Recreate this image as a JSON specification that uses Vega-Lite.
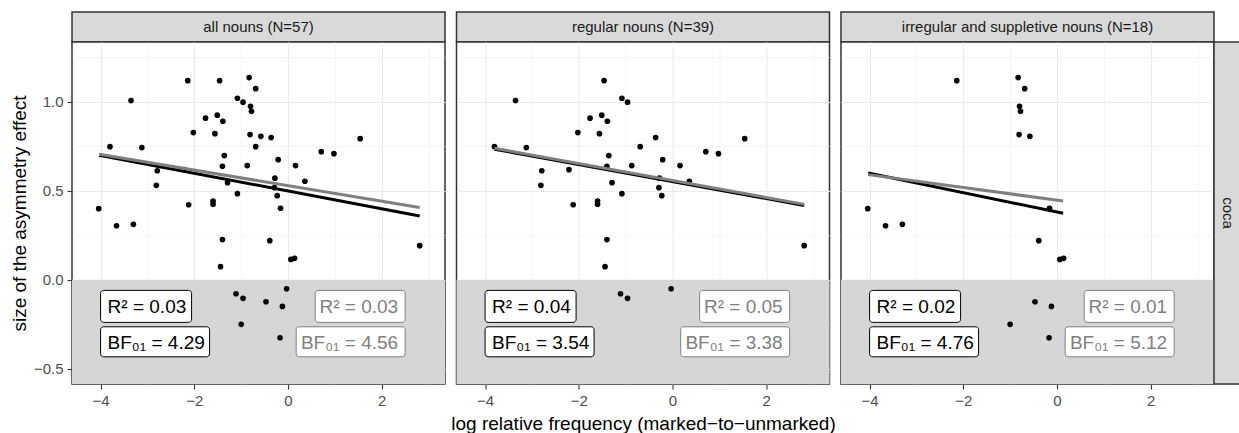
{
  "$schema": "https://vega.github.io/schema/vega-lite/v6.json",
  "padding": {"left": 9, "top": 11, "right": 0, "bottom": 0},
  "datasets": {
    "nouns": [
      {"x": -2.14, "y": 1.118, "type": "irregular"},
      {"x": -0.83, "y": 1.135, "type": "irregular"},
      {"x": -0.69, "y": 1.073, "type": "irregular"},
      {"x": -0.80, "y": 0.974, "type": "irregular"},
      {"x": -0.78, "y": 0.946, "type": "irregular"},
      {"x": -0.81, "y": 0.815, "type": "irregular"},
      {"x": -0.58, "y": 0.805, "type": "irregular"},
      {"x": -4.04, "y": 0.399, "type": "irregular"},
      {"x": -3.66, "y": 0.303, "type": "irregular"},
      {"x": -3.30, "y": 0.311, "type": "irregular"},
      {"x": -0.16, "y": 0.401, "type": "irregular"},
      {"x": -0.39, "y": 0.219, "type": "irregular"},
      {"x": 0.06, "y": 0.114, "type": "irregular"},
      {"x": 0.14, "y": 0.120, "type": "irregular"},
      {"x": -0.47, "y": -0.124, "type": "irregular"},
      {"x": -0.12, "y": -0.150, "type": "irregular"},
      {"x": -1.00, "y": -0.251, "type": "irregular"},
      {"x": -0.17, "y": -0.326, "type": "irregular"},
      {"x": -1.46, "y": 1.118, "type": "regular"},
      {"x": -3.35, "y": 1.006, "type": "regular"},
      {"x": -1.08, "y": 1.019, "type": "regular"},
      {"x": -0.96, "y": 0.997, "type": "regular"},
      {"x": -1.76, "y": 0.907, "type": "regular"},
      {"x": -1.51, "y": 0.924, "type": "regular"},
      {"x": -1.39, "y": 0.890, "type": "regular"},
      {"x": -2.02, "y": 0.826, "type": "regular"},
      {"x": -1.56, "y": 0.820, "type": "regular"},
      {"x": -0.36, "y": 0.798, "type": "regular"},
      {"x": 1.54, "y": 0.792, "type": "regular"},
      {"x": -3.80, "y": 0.747, "type": "regular"},
      {"x": -3.12, "y": 0.742, "type": "regular"},
      {"x": -0.69, "y": 0.747, "type": "regular"},
      {"x": 0.71, "y": 0.719, "type": "regular"},
      {"x": 0.98, "y": 0.708, "type": "regular"},
      {"x": -1.36, "y": 0.697, "type": "regular"},
      {"x": -0.21, "y": 0.674, "type": "regular"},
      {"x": -1.40, "y": 0.637, "type": "regular"},
      {"x": -0.87, "y": 0.641, "type": "regular"},
      {"x": 0.16, "y": 0.641, "type": "regular"},
      {"x": -2.79, "y": 0.612, "type": "regular"},
      {"x": -2.21, "y": 0.618, "type": "regular"},
      {"x": -0.28, "y": 0.570, "type": "regular"},
      {"x": 0.36, "y": 0.553, "type": "regular"},
      {"x": -1.29, "y": 0.545, "type": "regular"},
      {"x": -2.81, "y": 0.530, "type": "regular"},
      {"x": -0.29, "y": 0.517, "type": "regular"},
      {"x": -1.08, "y": 0.483, "type": "regular"},
      {"x": -0.23, "y": 0.472, "type": "regular"},
      {"x": -1.60, "y": 0.442, "type": "regular"},
      {"x": -1.60, "y": 0.424, "type": "regular"},
      {"x": -2.12, "y": 0.421, "type": "regular"},
      {"x": -1.40, "y": 0.225, "type": "regular"},
      {"x": 2.81, "y": 0.191, "type": "regular"},
      {"x": -1.44, "y": 0.073, "type": "regular"},
      {"x": -0.03, "y": -0.051, "type": "regular"},
      {"x": -1.11, "y": -0.079, "type": "regular"},
      {"x": -0.96, "y": -0.105, "type": "regular"}
    ],
    "fits": [
      {"panel": "all", "fit": "black", "x": -4.03, "y": 0.699},
      {"panel": "all", "fit": "black", "x": 2.81, "y": 0.358},
      {"panel": "all", "fit": "gray", "x": -4.03, "y": 0.704},
      {"panel": "all", "fit": "gray", "x": 2.81, "y": 0.405},
      {"panel": "regular", "fit": "black", "x": -3.80, "y": 0.733},
      {"panel": "regular", "fit": "black", "x": 2.81, "y": 0.417},
      {"panel": "regular", "fit": "gray", "x": -3.80, "y": 0.738},
      {"panel": "regular", "fit": "gray", "x": 2.81, "y": 0.423},
      {"panel": "irregular", "fit": "black", "x": -4.03, "y": 0.599},
      {"panel": "irregular", "fit": "black", "x": 0.13, "y": 0.373},
      {"panel": "irregular", "fit": "gray", "x": -4.03, "y": 0.590},
      {"panel": "irregular", "fit": "gray", "x": 0.13, "y": 0.442}
    ],
    "labels": [
      {"panel": "all", "r2b": "R² = 0.03", "bfb": "BF₀₁ = 4.29", "r2g": "R² = 0.03", "bfg": "BF₀₁ = 4.56"},
      {"panel": "regular", "r2b": "R² = 0.04", "bfb": "BF₀₁ = 3.54", "r2g": "R² = 0.05", "bfg": "BF₀₁ = 3.38"},
      {"panel": "irregular", "r2b": "R² = 0.02", "bfb": "BF₀₁ = 4.76", "r2g": "R² = 0.01", "bfg": "BF₀₁ = 5.12"}
    ]
  },
  "hconcat": [
    {
      "vconcat": [
        {
          "width": 373, "height": 30,
          "view": {"fill": "#d9d9d9", "stroke": "#333333", "strokeWidth": 1.5},
          "data": {"values": [{"label": "all nouns (N=57)"}]},
          "mark": {"type": "text", "fontSize": 15, "color": "#1a1a1a", "baseline": "middle"},
          "encoding": {"text": {"field": "label"}}
        },
        {
          "width": 373, "height": 342,
          "view": {"fill": "white", "stroke": "#333333", "strokeWidth": 1.5},
          "layer": [
            {"data": {"values": [{}]}, "mark": {"type": "rect", "color": "#d6d6d6"},
             "encoding": {"y": {"datum": 0, "type": "quantitative"}, "y2": {"datum": -0.586}, "x": {"datum": -4.61, "type": "quantitative"}, "x2": {"datum": 3.35}}},
            {"data": {"name": "nouns"}, "mark": {"type": "circle", "size": 32, "color": "black", "opacity": 1},
             "encoding": {
               "x": {"field": "x", "type": "quantitative", "scale": {"domain": [-4.61, 3.35], "nice": false, "zero": false},
                 "axis": {"values": [-4, -3, -2, -1, 0, 1, 2, 3], "format": "d", "labelExpr": "datum.value % 2 === 0 ? datum.label : ''", "title": null, "domain": false, "grid": true, "gridColor": "#ebebeb", "gridWidth": {"condition": {"test": "datum.value % 2 === 0", "value": 1.1}, "value": 0.55}, "tickColor": "#333333", "tickWidth": 1.1, "tickSize": 5, "tickOpacity": {"condition": {"test": "datum.value % 2 === 0", "value": 1}, "value": 0}, "labelFontSize": 15, "labelColor": "#4d4d4d", "labelPadding": 4, "labelFlush": false, "labelOverlap": false}},
               "y": {"field": "y", "type": "quantitative", "scale": {"domain": [-0.586, 1.335], "nice": false, "zero": false},
                 "axis": {"values": [-0.5, -0.25, 0, 0.25, 0.5, 0.75, 1, 1.25], "format": ".1f", "labelExpr": "abs(datum.value*4) % 2 < 0.01 ? datum.label : ''", "title": "size of the asymmetry effect", "titleFontSize": 19, "titleFontWeight": "normal", "titleColor": "black", "titlePadding": 4, "domain": false, "grid": true, "gridColor": "#ebebeb", "gridWidth": {"condition": {"test": "abs(datum.value*4) % 2 < 0.01", "value": 1.1}, "value": 0.55}, "tickColor": "#333333", "tickWidth": 1.1, "tickSize": 5, "tickOpacity": {"condition": {"test": "abs(datum.value*4) % 2 < 0.01", "value": 1}, "value": 0}, "labelFontSize": 15, "labelColor": "#4d4d4d", "labelPadding": 4, "labelFlush": false, "labelOverlap": false}}
             }},
            {"data": {"name": "fits"}, "transform": [{"filter": "datum.panel === 'all' && datum.fit === 'black'"}], "mark": {"type": "line", "color": "black", "strokeWidth": 3},
             "encoding": {"x": {"field": "x", "type": "quantitative"}, "y": {"field": "y", "type": "quantitative"}}},
            {"data": {"name": "fits"}, "transform": [{"filter": "datum.panel === 'all' && datum.fit === 'gray'"}], "mark": {"type": "line", "color": "#7f7f7f", "strokeWidth": 3},
             "encoding": {"x": {"field": "x", "type": "quantitative"}, "y": {"field": "y", "type": "quantitative"}}},
            {"data": {"name": "labels"}, "transform": [{"filter": "datum.panel === 'all'"}], "mark": {"type": "rect", "fill": "white", "stroke": "black", "strokeWidth": 1, "cornerRadius": 3, "x2Offset": 91, "yOffset": -16, "y2Offset": 16},
             "encoding": {"x": {"datum": -4}, "x2": {"datum": -4}, "y": {"datum": -0.15}, "y2": {"datum": -0.15}}},
            {"data": {"name": "labels"}, "transform": [{"filter": "datum.panel === 'all'"}], "mark": {"type": "rect", "fill": "white", "stroke": "black", "strokeWidth": 1, "cornerRadius": 3, "x2Offset": 109, "yOffset": -15, "y2Offset": 15},
             "encoding": {"x": {"datum": -4}, "x2": {"datum": -4}, "y": {"datum": -0.349}, "y2": {"datum": -0.349}}},
            {"data": {"name": "labels"}, "transform": [{"filter": "datum.panel === 'all'"}], "mark": {"type": "rect", "fill": "white", "stroke": "#7f7f7f", "strokeWidth": 1, "cornerRadius": 3, "xOffset": -90, "yOffset": -16, "y2Offset": 16},
             "encoding": {"x": {"datum": 2.5}, "x2": {"datum": 2.5}, "y": {"datum": -0.15}, "y2": {"datum": -0.15}}},
            {"data": {"name": "labels"}, "transform": [{"filter": "datum.panel === 'all'"}], "mark": {"type": "rect", "fill": "white", "stroke": "#7f7f7f", "strokeWidth": 1, "cornerRadius": 3, "xOffset": -109, "yOffset": -15, "y2Offset": 15},
             "encoding": {"x": {"datum": 2.5}, "x2": {"datum": 2.5}, "y": {"datum": -0.349}, "y2": {"datum": -0.349}}},
            {"data": {"name": "labels"}, "transform": [{"filter": "datum.panel === 'all'"}], "mark": {"type": "text", "align": "left", "baseline": "middle", "dx": 7, "dy": 1, "fontSize": 19, "color": "black"},
             "encoding": {"x": {"datum": -4}, "y": {"datum": -0.15}, "text": {"field": "r2b"}}},
            {"data": {"name": "labels"}, "transform": [{"filter": "datum.panel === 'all'"}], "mark": {"type": "text", "align": "left", "baseline": "middle", "dx": 7, "dy": 1, "fontSize": 19, "color": "black"},
             "encoding": {"x": {"datum": -4}, "y": {"datum": -0.349}, "text": {"field": "bfb"}}},
            {"data": {"name": "labels"}, "transform": [{"filter": "datum.panel === 'all'"}], "mark": {"type": "text", "align": "right", "baseline": "middle", "dx": -7, "dy": 1, "fontSize": 19, "color": "#7f7f7f"},
             "encoding": {"x": {"datum": 2.5}, "y": {"datum": -0.15}, "text": {"field": "r2g"}}},
            {"data": {"name": "labels"}, "transform": [{"filter": "datum.panel === 'all'"}], "mark": {"type": "text", "align": "right", "baseline": "middle", "dx": -7, "dy": 1, "fontSize": 19, "color": "#7f7f7f"},
             "encoding": {"x": {"datum": 2.5}, "y": {"datum": -0.349}, "text": {"field": "bfg"}}}
          ]
        }
      ],
      "spacing": 0, "bounds": "flush"
    },
    {
      "vconcat": [
        {
          "width": 373, "height": 30,
          "view": {"fill": "#d9d9d9", "stroke": "#333333", "strokeWidth": 1.5},
          "data": {"values": [{"label": "regular nouns (N=39)"}]},
          "mark": {"type": "text", "fontSize": 15, "color": "#1a1a1a", "baseline": "middle"},
          "encoding": {"text": {"field": "label"}}
        },
        {
          "width": 373, "height": 342,
          "view": {"fill": "white", "stroke": "#333333", "strokeWidth": 1.5},
          "layer": [
            {"data": {"values": [{}]}, "mark": {"type": "rect", "color": "#d6d6d6"},
             "encoding": {"y": {"datum": 0, "type": "quantitative"}, "y2": {"datum": -0.586}, "x": {"datum": -4.61, "type": "quantitative"}, "x2": {"datum": 3.35}}},
            {"data": {"name": "nouns"}, "transform": [{"filter": "datum.type === 'regular'"}], "mark": {"type": "circle", "size": 32, "color": "black", "opacity": 1},
             "encoding": {
               "x": {"field": "x", "type": "quantitative", "scale": {"domain": [-4.61, 3.35], "nice": false, "zero": false},
                 "axis": {"values": [-4, -3, -2, -1, 0, 1, 2, 3], "format": "d", "labelExpr": "datum.value % 2 === 0 ? datum.label : ''", "title": "log relative frequency (marked−to−unmarked)", "titleFontSize": 19, "titleFontWeight": "normal", "titleColor": "black", "titlePadding": 6, "domain": false, "grid": true, "gridColor": "#ebebeb", "gridWidth": {"condition": {"test": "datum.value % 2 === 0", "value": 1.1}, "value": 0.55}, "tickColor": "#333333", "tickWidth": 1.1, "tickSize": 5, "tickOpacity": {"condition": {"test": "datum.value % 2 === 0", "value": 1}, "value": 0}, "labelFontSize": 15, "labelColor": "#4d4d4d", "labelPadding": 4, "labelFlush": false, "labelOverlap": false}},
               "y": {"field": "y", "type": "quantitative", "scale": {"domain": [-0.586, 1.335], "nice": false, "zero": false},
                 "axis": {"values": [-0.5, -0.25, 0, 0.25, 0.5, 0.75, 1, 1.25], "title": null, "labels": false, "ticks": false, "domain": false, "grid": true, "gridColor": "#ebebeb", "gridWidth": {"condition": {"test": "abs(datum.value*4) % 2 < 0.01", "value": 1.1}, "value": 0.55}}}
             }},
            {"data": {"name": "fits"}, "transform": [{"filter": "datum.panel === 'regular' && datum.fit === 'black'"}], "mark": {"type": "line", "color": "black", "strokeWidth": 3},
             "encoding": {"x": {"field": "x", "type": "quantitative"}, "y": {"field": "y", "type": "quantitative"}}},
            {"data": {"name": "fits"}, "transform": [{"filter": "datum.panel === 'regular' && datum.fit === 'gray'"}], "mark": {"type": "line", "color": "#7f7f7f", "strokeWidth": 3},
             "encoding": {"x": {"field": "x", "type": "quantitative"}, "y": {"field": "y", "type": "quantitative"}}},
            {"data": {"name": "labels"}, "transform": [{"filter": "datum.panel === 'regular'"}], "mark": {"type": "rect", "fill": "white", "stroke": "black", "strokeWidth": 1, "cornerRadius": 3, "x2Offset": 91, "yOffset": -16, "y2Offset": 16},
             "encoding": {"x": {"datum": -4}, "x2": {"datum": -4}, "y": {"datum": -0.15}, "y2": {"datum": -0.15}}},
            {"data": {"name": "labels"}, "transform": [{"filter": "datum.panel === 'regular'"}], "mark": {"type": "rect", "fill": "white", "stroke": "black", "strokeWidth": 1, "cornerRadius": 3, "x2Offset": 109, "yOffset": -15, "y2Offset": 15},
             "encoding": {"x": {"datum": -4}, "x2": {"datum": -4}, "y": {"datum": -0.349}, "y2": {"datum": -0.349}}},
            {"data": {"name": "labels"}, "transform": [{"filter": "datum.panel === 'regular'"}], "mark": {"type": "rect", "fill": "white", "stroke": "#7f7f7f", "strokeWidth": 1, "cornerRadius": 3, "xOffset": -90, "yOffset": -16, "y2Offset": 16},
             "encoding": {"x": {"datum": 2.5}, "x2": {"datum": 2.5}, "y": {"datum": -0.15}, "y2": {"datum": -0.15}}},
            {"data": {"name": "labels"}, "transform": [{"filter": "datum.panel === 'regular'"}], "mark": {"type": "rect", "fill": "white", "stroke": "#7f7f7f", "strokeWidth": 1, "cornerRadius": 3, "xOffset": -109, "yOffset": -15, "y2Offset": 15},
             "encoding": {"x": {"datum": 2.5}, "x2": {"datum": 2.5}, "y": {"datum": -0.349}, "y2": {"datum": -0.349}}},
            {"data": {"name": "labels"}, "transform": [{"filter": "datum.panel === 'regular'"}], "mark": {"type": "text", "align": "left", "baseline": "middle", "dx": 7, "dy": 1, "fontSize": 19, "color": "black"},
             "encoding": {"x": {"datum": -4}, "y": {"datum": -0.15}, "text": {"field": "r2b"}}},
            {"data": {"name": "labels"}, "transform": [{"filter": "datum.panel === 'regular'"}], "mark": {"type": "text", "align": "left", "baseline": "middle", "dx": 7, "dy": 1, "fontSize": 19, "color": "black"},
             "encoding": {"x": {"datum": -4}, "y": {"datum": -0.349}, "text": {"field": "bfb"}}},
            {"data": {"name": "labels"}, "transform": [{"filter": "datum.panel === 'regular'"}], "mark": {"type": "text", "align": "right", "baseline": "middle", "dx": -7, "dy": 1, "fontSize": 19, "color": "#7f7f7f"},
             "encoding": {"x": {"datum": 2.5}, "y": {"datum": -0.15}, "text": {"field": "r2g"}}},
            {"data": {"name": "labels"}, "transform": [{"filter": "datum.panel === 'regular'"}], "mark": {"type": "text", "align": "right", "baseline": "middle", "dx": -7, "dy": 1, "fontSize": 19, "color": "#7f7f7f"},
             "encoding": {"x": {"datum": 2.5}, "y": {"datum": -0.349}, "text": {"field": "bfg"}}}
          ]
        }
      ],
      "spacing": 0, "bounds": "flush"
    },
    {
      "vconcat": [
        {
          "width": 373, "height": 30,
          "view": {"fill": "#d9d9d9", "stroke": "#333333", "strokeWidth": 1.5},
          "data": {"values": [{"label": "irregular and suppletive nouns (N=18)"}]},
          "mark": {"type": "text", "fontSize": 15, "color": "#1a1a1a", "baseline": "middle"},
          "encoding": {"text": {"field": "label"}}
        },
        {
          "hconcat": [
            {
              "width": 373, "height": 342,
              "view": {"fill": "white", "stroke": "#333333", "strokeWidth": 1.5},
              "layer": [
                {"data": {"values": [{}]}, "mark": {"type": "rect", "color": "#d6d6d6"},
                 "encoding": {"y": {"datum": 0, "type": "quantitative"}, "y2": {"datum": -0.586}, "x": {"datum": -4.61, "type": "quantitative"}, "x2": {"datum": 3.35}}},
                {"data": {"name": "nouns"}, "transform": [{"filter": "datum.type === 'irregular'"}], "mark": {"type": "circle", "size": 32, "color": "black", "opacity": 1},
                 "encoding": {
                   "x": {"field": "x", "type": "quantitative", "scale": {"domain": [-4.61, 3.35], "nice": false, "zero": false},
                     "axis": {"values": [-4, -3, -2, -1, 0, 1, 2, 3], "format": "d", "labelExpr": "datum.value % 2 === 0 ? datum.label : ''", "title": null, "domain": false, "grid": true, "gridColor": "#ebebeb", "gridWidth": {"condition": {"test": "datum.value % 2 === 0", "value": 1.1}, "value": 0.55}, "tickColor": "#333333", "tickWidth": 1.1, "tickSize": 5, "tickOpacity": {"condition": {"test": "datum.value % 2 === 0", "value": 1}, "value": 0}, "labelFontSize": 15, "labelColor": "#4d4d4d", "labelPadding": 4, "labelFlush": false, "labelOverlap": false}},
                   "y": {"field": "y", "type": "quantitative", "scale": {"domain": [-0.586, 1.335], "nice": false, "zero": false},
                     "axis": {"values": [-0.5, -0.25, 0, 0.25, 0.5, 0.75, 1, 1.25], "title": null, "labels": false, "ticks": false, "domain": false, "grid": true, "gridColor": "#ebebeb", "gridWidth": {"condition": {"test": "abs(datum.value*4) % 2 < 0.01", "value": 1.1}, "value": 0.55}}}
                 }},
                {"data": {"name": "fits"}, "transform": [{"filter": "datum.panel === 'irregular' && datum.fit === 'black'"}], "mark": {"type": "line", "color": "black", "strokeWidth": 3},
                 "encoding": {"x": {"field": "x", "type": "quantitative"}, "y": {"field": "y", "type": "quantitative"}}},
                {"data": {"name": "fits"}, "transform": [{"filter": "datum.panel === 'irregular' && datum.fit === 'gray'"}], "mark": {"type": "line", "color": "#7f7f7f", "strokeWidth": 3},
                 "encoding": {"x": {"field": "x", "type": "quantitative"}, "y": {"field": "y", "type": "quantitative"}}},
                {"data": {"name": "labels"}, "transform": [{"filter": "datum.panel === 'irregular'"}], "mark": {"type": "rect", "fill": "white", "stroke": "black", "strokeWidth": 1, "cornerRadius": 3, "x2Offset": 91, "yOffset": -16, "y2Offset": 16},
                 "encoding": {"x": {"datum": -4}, "x2": {"datum": -4}, "y": {"datum": -0.15}, "y2": {"datum": -0.15}}},
                {"data": {"name": "labels"}, "transform": [{"filter": "datum.panel === 'irregular'"}], "mark": {"type": "rect", "fill": "white", "stroke": "black", "strokeWidth": 1, "cornerRadius": 3, "x2Offset": 109, "yOffset": -15, "y2Offset": 15},
                 "encoding": {"x": {"datum": -4}, "x2": {"datum": -4}, "y": {"datum": -0.349}, "y2": {"datum": -0.349}}},
                {"data": {"name": "labels"}, "transform": [{"filter": "datum.panel === 'irregular'"}], "mark": {"type": "rect", "fill": "white", "stroke": "#7f7f7f", "strokeWidth": 1, "cornerRadius": 3, "xOffset": -90, "yOffset": -16, "y2Offset": 16},
                 "encoding": {"x": {"datum": 2.5}, "x2": {"datum": 2.5}, "y": {"datum": -0.15}, "y2": {"datum": -0.15}}},
                {"data": {"name": "labels"}, "transform": [{"filter": "datum.panel === 'irregular'"}], "mark": {"type": "rect", "fill": "white", "stroke": "#7f7f7f", "strokeWidth": 1, "cornerRadius": 3, "xOffset": -109, "yOffset": -15, "y2Offset": 15},
                 "encoding": {"x": {"datum": 2.5}, "x2": {"datum": 2.5}, "y": {"datum": -0.349}, "y2": {"datum": -0.349}}},
                {"data": {"name": "labels"}, "transform": [{"filter": "datum.panel === 'irregular'"}], "mark": {"type": "text", "align": "left", "baseline": "middle", "dx": 7, "dy": 1, "fontSize": 19, "color": "black"},
                 "encoding": {"x": {"datum": -4}, "y": {"datum": -0.15}, "text": {"field": "r2b"}}},
                {"data": {"name": "labels"}, "transform": [{"filter": "datum.panel === 'irregular'"}], "mark": {"type": "text", "align": "left", "baseline": "middle", "dx": 7, "dy": 1, "fontSize": 19, "color": "black"},
                 "encoding": {"x": {"datum": -4}, "y": {"datum": -0.349}, "text": {"field": "bfb"}}},
                {"data": {"name": "labels"}, "transform": [{"filter": "datum.panel === 'irregular'"}], "mark": {"type": "text", "align": "right", "baseline": "middle", "dx": -7, "dy": 1, "fontSize": 19, "color": "#7f7f7f"},
                 "encoding": {"x": {"datum": 2.5}, "y": {"datum": -0.15}, "text": {"field": "r2g"}}},
                {"data": {"name": "labels"}, "transform": [{"filter": "datum.panel === 'irregular'"}], "mark": {"type": "text", "align": "right", "baseline": "middle", "dx": -7, "dy": 1, "fontSize": 19, "color": "#7f7f7f"},
                 "encoding": {"x": {"datum": 2.5}, "y": {"datum": -0.349}, "text": {"field": "bfg"}}}
              ]
            },
            {
              "width": 28, "height": 342,
              "view": {"fill": "#d9d9d9", "stroke": "#333333", "strokeWidth": 1.5},
              "data": {"values": [{"label": "coca"}]},
              "mark": {"type": "text", "fontSize": 15, "color": "#1a1a1a", "baseline": "middle", "angle": 90},
              "encoding": {"text": {"field": "label"}}
            }
          ],
          "spacing": 0, "bounds": "flush"
        }
      ],
      "spacing": 0, "bounds": "flush"
    }
  ],
  "spacing": 3.5,
  "config": {
    "font": "Liberation Sans",
    "axis": {"titleFontWeight": "normal"}
  }
}
